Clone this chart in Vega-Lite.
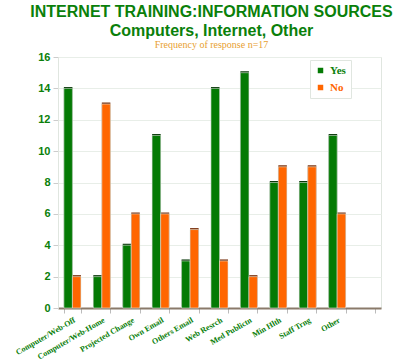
{
  "$schema": "https://vega.github.io/schema/vega-lite/v6.json",
  "autosize": {"type": "none"},
  "width": 323,
  "height": 251,
  "padding": {"left": 58, "top": 57, "right": 19, "bottom": 56},
  "background": "white",
  "title": {
    "text": ["INTERNET TRAINING:INFORMATION SOURCES", "Computers, Internet, Other"],
    "subtitle": "Frequency of response n=17",
    "anchor": "middle",
    "dx": -8,
    "offset": 1,
    "font": "Liberation Sans",
    "fontSize": 16,
    "fontWeight": "bold",
    "color": "#0a800a",
    "lineHeight": 19,
    "subtitleFont": "Liberation Serif",
    "subtitleFontSize": 10,
    "subtitleColor": "#e8a030",
    "subtitlePadding": 1
  },
  "data": {
    "values": [
      {"cat": "Computer/Web-Off", "resp": "Yes", "n": 14},
      {"cat": "Computer/Web-Off", "resp": "No", "n": 2},
      {"cat": "Computer/Web-Home", "resp": "Yes", "n": 2},
      {"cat": "Computer/Web-Home", "resp": "No", "n": 13},
      {"cat": "Projected Change", "resp": "Yes", "n": 4},
      {"cat": "Projected Change", "resp": "No", "n": 6},
      {"cat": "Own Email", "resp": "Yes", "n": 11},
      {"cat": "Own Email", "resp": "No", "n": 6},
      {"cat": "Others Email", "resp": "Yes", "n": 3},
      {"cat": "Others Email", "resp": "No", "n": 5},
      {"cat": "Web Resrch", "resp": "Yes", "n": 14},
      {"cat": "Web Resrch", "resp": "No", "n": 3},
      {"cat": "Med Publictn", "resp": "Yes", "n": 15},
      {"cat": "Med Publictn", "resp": "No", "n": 2},
      {"cat": "Min Hlth", "resp": "Yes", "n": 8},
      {"cat": "Min Hlth", "resp": "No", "n": 9},
      {"cat": "Staff Trng", "resp": "Yes", "n": 8},
      {"cat": "Staff Trng", "resp": "No", "n": 9},
      {"cat": "Other", "resp": "Yes", "n": 11},
      {"cat": "Other", "resp": "No", "n": 6}
    ]
  },
  "encoding": {
    "x": {
      "field": "cat",
      "type": "nominal",
      "sort": null,
      "scale": {
        "domain": ["Computer/Web-Off", "Computer/Web-Home", "Projected Change", "Own Email", "Others Email", "Web Resrch", "Med Publictn", "Min Hlth", "Staff Trng", "Other", " "],
        "paddingInner": 0.42,
        "paddingOuter": 0.2
      },
      "axis": {
        "title": null,
        "labelAngle": -30,
        "labelAlign": "right",
        "labelBaseline": "top",
        "labelFont": "Liberation Serif",
        "labelFontSize": 8,
        "labelFontWeight": "bold",
        "labelColor": "#0a800a",
        "tickBand": "extent",
        "tickColor": "#bbb",
        "tickSize": 5,
        "domainColor": "#8a7a6a",
        "domainWidth": 2,
        "labelPadding": 3,
        "labelOverlap": false
      }
    },
    "xOffset": {"field": "resp", "type": "nominal", "sort": ["Yes", "No"]},
    "y": {
      "field": "n",
      "type": "quantitative",
      "scale": {"domain": [0, 16]},
      "axis": {
        "title": null,
        "values": [0, 2, 4, 6, 8, 10, 12, 14, 16],
        "labelFont": "Liberation Sans",
        "labelFontSize": 11,
        "labelFontWeight": "bold",
        "labelColor": "#0a800a",
        "gridColor": "#e8eee8",
        "tickColor": "#ccc",
        "tickSize": 5,
        "domainColor": "#e0e6e0",
        "labelPadding": 3
      }
    }
  },
  "layer": [
    {
      "mark": {"type": "bar", "xOffset": 2, "yOffset": -1.5},
      "encoding": {
        "color": {
          "field": "resp",
          "type": "nominal",
          "scale": {"domain": ["Yes", "No"], "range": ["#0b3a0b", "#7a3412"]},
          "legend": null
        }
      }
    },
    {
      "mark": {"type": "bar", "stroke": "#dfe8df", "strokeWidth": 0.6},
      "encoding": {
        "color": {
          "field": "resp",
          "type": "nominal",
          "sort": ["Yes", "No"],
          "scale": {"domain": ["Yes", "No"], "range": ["#047a04", "#ff6600"]},
          "legend": {
            "title": null,
            "orient": "none",
            "legendX": 252,
            "legendY": 3,
            "fillColor": "white",
            "strokeColor": "#e0e6e0",
            "padding": 5,
            "symbolType": "square",
            "symbolSize": 30,
            "symbolStrokeWidth": 0,
            "labelFont": "Liberation Serif",
            "labelFontSize": 11,
            "labelFontWeight": "bold",
            "labelColor": {"expr": "datum.label == 'Yes' ? '#0a800a' : '#ff6600'"},
            "rowPadding": 5
          }
        }
      }
    }
  ],
  "resolve": {"scale": {"color": "independent"}},
  "config": {
    "view": {"stroke": "#e0e6e0"}
  }
}
